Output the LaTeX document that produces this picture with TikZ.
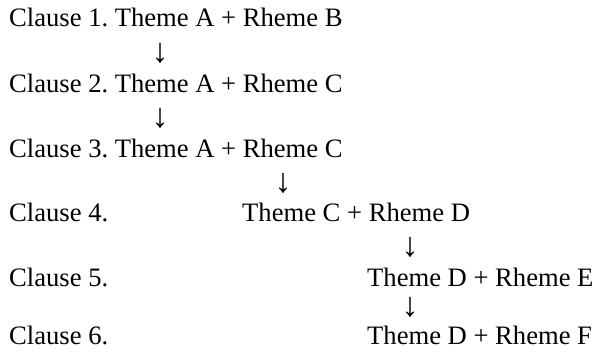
\documentclass[tikz,border=0pt]{standalone}
\usepackage{fontspec}
\setmainfont{Liberation Serif}
\frenchspacing
\begin{document}
\begin{tikzpicture}[x=1pt,y=-1pt,
  txt/.style={inner sep=0pt,anchor=base west,font=\fontsize{26.6pt}{32pt}\selectfont},
  arr/.style={inner sep=0pt,anchor=center,font=\fontsize{34pt}{36pt}\selectfont}]
\useasboundingbox (0,0) rectangle (596,353);
\node[txt] (c1) at (9,27) {Clause 1. Theme A + Rheme B};
\node[arr] (a1) at (160,53.5) {↓};
\node[txt] (c2) at (9,92) {Clause 2. Theme A + Rheme C};
\node[arr] (a2) at (160,118.5) {↓};
\node[txt] (c3) at (9,157) {Clause 3. Theme A + Rheme C};
\node[arr] (a3) at (283,183.5) {↓};
\node[txt] (c4) at (9,221) {Clause 4.};
\node[txt] (t4) at (242,221) {Theme C + Rheme D};
\node[arr] (a4) at (410,247.5) {↓};
\node[txt] (c5) at (9,286) {Clause 5.};
\node[txt] (t5) at (367,286) {Theme D + Rheme E};
\node[arr] (a5) at (410,307.5) {↓};
\node[txt] (c6) at (9,344) {Clause 6.};
\node[txt] (t6) at (367,344) {Theme D + Rheme F};
\end{tikzpicture}
\end{document}
